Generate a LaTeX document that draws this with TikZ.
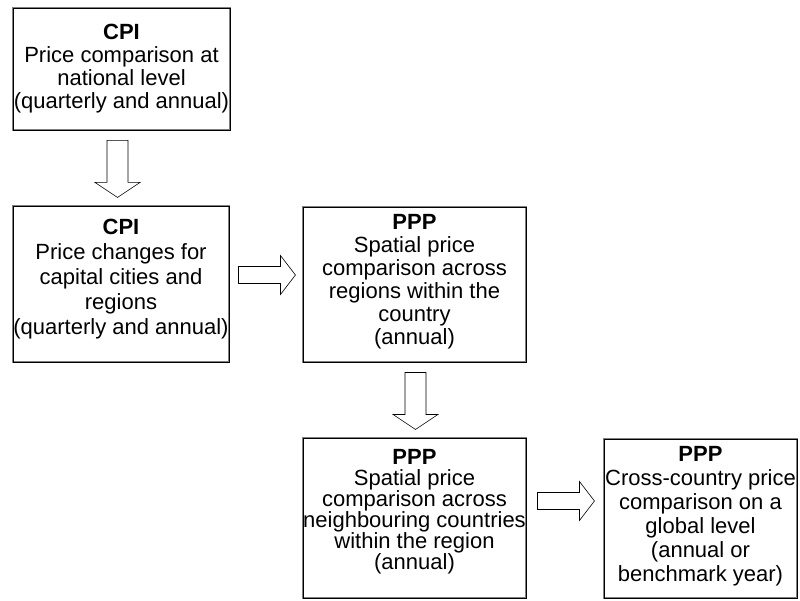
\documentclass[tikz,border=0pt]{standalone}
\usepackage{fontspec}
\setmainfont{Liberation Sans}
\usepackage{tikz}
\usetikzlibrary{calc,positioning}
\tikzstyle{box}=[draw=gray,double=black,double distance=0.7pt,line width=0.9pt,rectangle,inner sep=0pt]
\tikzstyle{txt}=[align=center,inner sep=0pt,font=\boxfont{23}]
\tikzstyle{blk}=[draw=black,line width=0.6pt,fill=white,line join=miter]
\newcommand{\boxfont}[1]{\fontsize{22}{#1}\selectfont}
\newcommand{\blockdown}[1]{\draw[blk] (#1) ++(-10.5,0) -- ++(21,0) -- ++(0,-42) -- ++(12,0) -- ++(-22.5,-15) -- ++(-22.5,15) -- ++(12,0) -- cycle;}
\newcommand{\blockright}[1]{\draw[blk] (#1) ++(0,8.5) -- ++(42,0) -- ++(0,11) -- ++(15,-19.5) -- ++(-15,-19.5) -- ++(0,11) -- ++(-42,0) -- cycle;}

\begin{document}
\begin{tikzpicture}[x=1pt,y=1pt]
\useasboundingbox (0,0) rectangle (800,-601);
% boxes
\node[box,minimum width=217,minimum height=122](cpinat)at (121.5,-69){};
\node[box,minimum width=216,minimum height=156](cpicap)at (121,-284){};
\node[box,minimum width=223,minimum height=155](ppprg)at (414.5,-284.5){};
\node[box,minimum width=223,minimum height=160](pppnb)at (414.5,-518){};
\node[box,minimum width=193,minimum height=159](pppgl)at (700.5,-518.5){};
% texts
\node[txt,below=16pt of cpinat.north](cpinattxt){\textbf{CPI}\\Price comparison at\\national level\\(quarterly and annual)};
\node[txt,font=\boxfont{25},below=13pt of cpicap.north](cpicaptxt){\textbf{CPI}\\Price changes for\\capital cities and\\regions\\(quarterly and annual)};
\node[txt,below=8pt of ppprg.north](ppprgtxt){\textbf{PPP}\\Spatial price\\comparison across\\regions within the\\country\\(annual)};
\node[txt,font=\boxfont{21},below=12pt of pppnb.north](pppnbtxt){\textbf{PPP}\\Spatial price\\comparison across\\neighbouring countries\\within the region\\(annual)};
\node[txt,font=\boxfont{24},below=8pt of pppgl.north](pppgltxt){\textbf{PPP}\\Cross-country price\\comparison on a\\global level\\(annual or\\benchmark year)};
% block arrows
\coordinate (a1) at ($(cpinat.south)+(-4,-10)$);
\coordinate (a2) at ($(ppprg.south)+(1,-10)$);
\coordinate (a3) at ($(cpicap.east)+(9,9)$);
\coordinate (a4) at ($(pppnb.east)+(11,17)$);
\blockdown{a1}
\blockdown{a2}
\blockright{a3}
\blockright{a4}
\end{tikzpicture}
\end{document}
